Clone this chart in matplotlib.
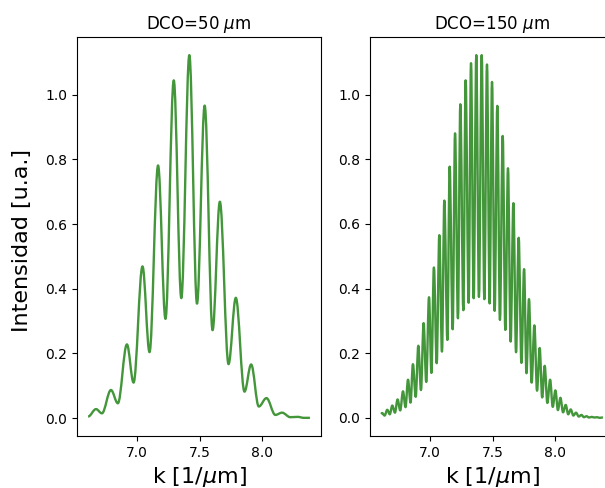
import numpy as np
import matplotlib
matplotlib.use("Agg")
import matplotlib.pyplot as plt
from matplotlib.path import Path
from matplotlib.patches import PathPatch

# extrema (peaks and valleys), in order of k
k50 = [6.612, 6.675, 6.722, 6.794, 6.849, 6.921, 6.974, 7.045, 7.101, 7.169,
       7.228, 7.294, 7.354, 7.418, 7.479, 7.540, 7.603, 7.661, 7.730, 7.788,
       7.857, 7.910, 7.971, 8.032, 8.103, 8.156, 8.222, 8.280, 8.330, 8.378]
I50 = [0.005, 0.028, 0.015, 0.087, 0.046, 0.228, 0.110, 0.469, 0.204, 0.781,
       0.307, 1.044, 0.371, 1.122, 0.354, 0.966, 0.272, 0.669, 0.167, 0.372,
       0.082, 0.166, 0.036, 0.062, 0.010, 0.017, 0.003, 0.004, 0.001, 0.001]

k150 = [6.614, 6.621, 6.642, 6.663, 6.683, 6.703, 6.724, 6.745, 6.766, 6.788,
        6.808, 6.828, 6.848, 6.867, 6.889, 6.910, 6.931, 6.952, 6.973, 6.995,
        7.014, 7.034, 7.056, 7.077, 7.098, 7.117, 7.141, 7.159, 7.183, 7.202,
        7.225, 7.244, 7.268, 7.286, 7.310, 7.329, 7.350, 7.371, 7.392, 7.414,
        7.435, 7.456, 7.477, 7.496, 7.517, 7.538, 7.559, 7.581, 7.602, 7.623,
        7.644, 7.666, 7.687, 7.708, 7.730, 7.751, 7.770, 7.790, 7.811, 7.833,
        7.854, 7.875, 7.895, 7.915, 7.936, 7.958, 7.979, 8.000, 8.020, 8.040,
        8.061, 8.082, 8.102, 8.122, 8.143, 8.164, 8.186, 8.207, 8.227, 8.247,
        8.268, 8.289, 8.310, 8.331, 8.352, 8.373, 8.378]
I150 = [0.012, 0.015, 0.007, 0.025, 0.011, 0.038, 0.016, 0.057, 0.023, 0.082,
        0.033, 0.118, 0.047, 0.166, 0.065, 0.223, 0.086, 0.293, 0.111, 0.373,
        0.139, 0.465, 0.169, 0.565, 0.205, 0.672, 0.241, 0.777, 0.274, 0.880,
        0.308, 0.970, 0.333, 1.044, 0.356, 1.097, 0.370, 1.122, 0.374, 1.122,
        0.367, 1.093, 0.354, 1.039, 0.331, 0.965, 0.303, 0.872, 0.272, 0.772,
        0.236, 0.664, 0.203, 0.557, 0.170, 0.460, 0.138, 0.367, 0.109, 0.286,
        0.084, 0.216, 0.063, 0.161, 0.046, 0.118, 0.034, 0.085, 0.024, 0.062,
        0.017, 0.040, 0.011, 0.026, 0.007, 0.016, 0.004, 0.009, 0.002, 0.005,
        0.001, 0.003, 0.001, 0.002, 0.000, 0.001, 0.001]

titles = ["DCO=50 $\\mu$m", "DCO=150 $\\mu$m"]


def smooth_curve(ks, vals, c=0.36):
    # cubic bezier segments with flat tangents at every extremum
    verts = [(ks[0], vals[0])]
    codes = [Path.MOVETO]
    for i in range(len(ks) - 1):
        dx = ks[i + 1] - ks[i]
        verts += [(ks[i] + c * dx, vals[i]), (ks[i + 1] - c * dx, vals[i + 1]),
                  (ks[i + 1], vals[i + 1])]
        codes += [Path.CURVE4] * 3
    return Path(verts, codes)


fig = plt.figure(figsize=(6.05, 4.88), dpi=100)
ax1 = fig.add_axes([0.1273, 0.1066, 0.4033, 0.8176])
ax2 = fig.add_axes([0.6116, 0.1066, 0.4033, 0.8176])

for ax, ks, vals, t in [(ax1, k50, I50, titles[0]), (ax2, k150, I150, titles[1])]:
    patch = PathPatch(smooth_curve(ks, vals), facecolor="none", edgecolor="#43963a",
                      lw=1.7, joinstyle="round")
    ax.add_patch(patch)
    ax.autoscale_view()
    ax.set_xticks([7.0, 7.5, 8.0])
    ax.set_yticks(np.arange(0, 1.01, 0.2))
    ax.set_title(t, fontsize=12)
    ax.set_xlabel("k [1/$\\mu$m]", fontsize=16)

ax1.set_ylabel("Intensidad [u.a.]", fontsize=16)
ax1.yaxis.set_label_coords(-0.186, 0.49)

plt.savefig("out.png", dpi=100)
